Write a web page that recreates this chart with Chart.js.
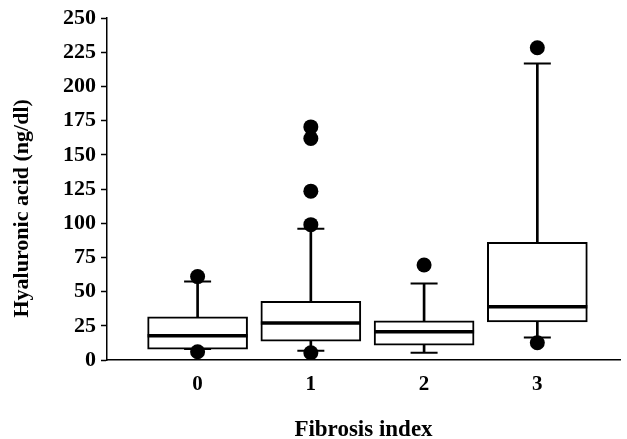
<!DOCTYPE html>
<html>
<head>
<meta charset="utf-8">
<script src="https://cdn.jsdelivr.net/npm/chart.js@4.4.1/dist/chart.umd.min.js"></script>
<style>
  html, body { margin: 0; padding: 0; background: #fff; }
  #wrap { width: 627px; height: 439px; position: relative; }
</style>
</head>
<body>
<div id="wrap"><canvas id="boxChart"></canvas></div>
<script>
// values
const categories = ['0', '1', '2', '3'];
const q1 = [8, 13.8, 10.9, 27.9];
const median = [17.7, 27, 20.6, 39];
const q3 = [31.5, 43, 28.6, 86];
const whiskerLow = [8, 6.8, 5.3, 16.5];
const whiskerHigh = [57.4, 96, 56, 216.8];
const outliers = [
  [61, 6],
  [5.3, 99, 123.5, 162, 170.5],
  [69.5],
  [228.4, 12.6]
];
const yTicks = [0, 25, 50, 75, 100, 125, 150, 175, 200, 225, 250];

Chart.defaults.color = '#000';
Chart.defaults.font.family = '"Liberation Serif", "Times New Roman", serif';
Chart.defaults.font.weight = 'bold';

const boxData = categories.map((c, i) => ({ x: i, y: [q1[i], q3[i]] }));
const whiskerData = categories.map((c, i) => ({ x: i, y: [whiskerLow[i], whiskerHigh[i]] }));
const medianData = categories.map((c, i) => ({ x: i, y: median[i] }));
const capData = [];
categories.forEach((c, i) => {
  capData.push({ x: i, y: whiskerLow[i] });
  capData.push({ x: i, y: whiskerHigh[i] });
});
const outlierData = [];
outliers.forEach((list, i) => list.forEach(v => outlierData.push({ x: i, y: v })));

new Chart(document.getElementById('boxChart'), {
  type: 'bar',
  data: {
    datasets: [
      {
        label: 'whiskers',
        data: whiskerData,
        backgroundColor: '#000',
        borderWidth: 0,
        barThickness: 2,
        grouped: false,
        order: 4
      },
      {
        label: 'boxes',
        data: boxData,
        backgroundColor: '#fff',
        borderColor: '#000',
        borderWidth: 2,
        borderSkipped: false,
        barThickness: 100,
        grouped: false,
        order: 3
      },
      {
        type: 'scatter',
        label: 'median',
        data: medianData,
        pointStyle: 'line',
        radius: 50,
        borderColor: '#000',
        borderWidth: 3.5,
        order: 2
      },
      {
        type: 'scatter',
        label: 'caps',
        data: capData,
        pointStyle: 'line',
        radius: 13.5,
        borderColor: '#000',
        borderWidth: 2,
        order: 2
      },
      {
        type: 'scatter',
        label: 'outliers',
        data: outlierData,
        pointStyle: 'circle',
        radius: 7.5,
        backgroundColor: '#000',
        borderColor: '#000',
        borderWidth: 0,
        order: 1
      }
    ]
  },
  options: {
    responsive: true,
    maintainAspectRatio: false,
    animation: false,
    layout: {
      autoPadding: false,
      padding: { top: 16, right: 7, left: 0, bottom: -5 }
    },
    plugins: {
      legend: { display: false },
      tooltip: { enabled: false }
    },
    scales: {
      x: {
        type: 'linear',
        offset: false,
        min: -0.8,
        max: 3.73,
        afterBuildTicks: (scale) => {
          scale.ticks = categories.map((c, i) => ({ value: i }));
        },
        afterFit: (scale) => { scale.height = 84; },
        grid: { display: true, drawOnChartArea: false, drawTicks: false },
        border: { color: '#000', width: 1.5 },
        ticks: {
          padding: 12,
          font: { size: 21 },
          callback: (v) => categories[v]
        },
        title: {
          display: true,
          text: 'Fibrosis index',
          font: { size: 23 },
          padding: { top: 0, bottom: 0 }
        }
      },
      y: {
        min: 0,
        max: 250,
        afterBuildTicks: (scale) => {
          scale.ticks = yTicks.map(v => ({ value: v }));
        },
        afterFit: (scale) => { scale.width = 107; },
        grid: { display: true, drawOnChartArea: false, tickLength: 6, color: '#000', tickWidth: 1.5 },
        border: { color: '#000', width: 1.5 },
        ticks: {
          padding: 5,
          font: { size: 22 }
        },
        title: {
          display: true,
          // trailing spaces push the centred title down to where the reference has it
          text: 'Hyaluronic acid (ng/dl)' + '\u00a0'.repeat(7),
          font: { size: 22 },
          padding: { top: 9, bottom: 0 }
        }
      }
    }
  }
});
</script>
</body>
</html>
